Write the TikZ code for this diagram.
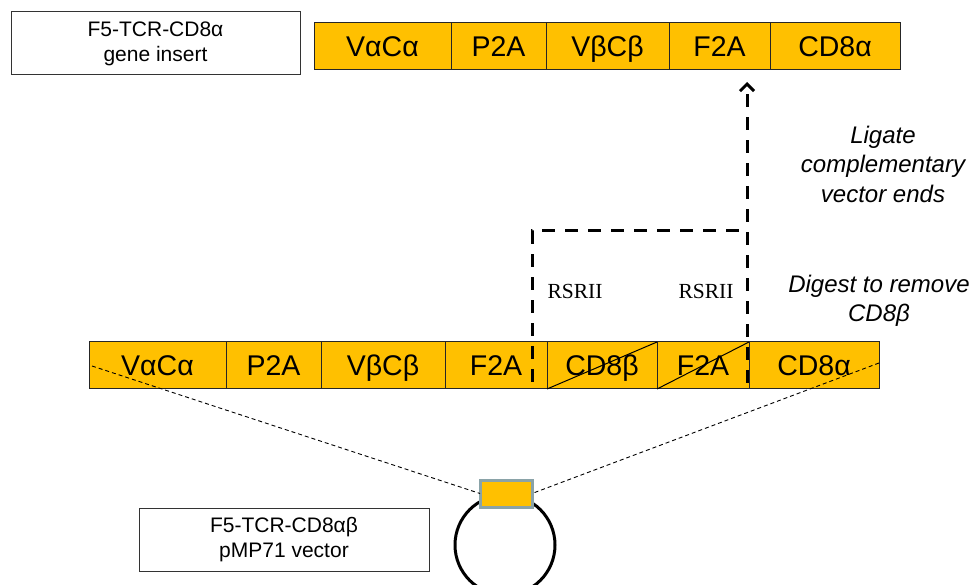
\documentclass[tikz,border=0pt]{standalone}
\usepackage{fontspec}
\setmainfont{Liberation Sans}
\newfontfamily\rsfont{Liberation Serif}
\usetikzlibrary{arrows.meta}
\definecolor{gene}{HTML}{FFC000}
\definecolor{insedge}{HTML}{8AA3A8}
\tikzset{
  cell/.style={draw=black!85, line width=1pt, fill=gene, inner sep=0pt, outer sep=0pt, minimum height=47pt, anchor=north west, text height=20.5pt, text depth=0pt, font=\fontsize{28.5}{30}\selectfont},
  labelbox/.style={draw=black!80, line width=1pt, fill=white, inner sep=0pt, outer sep=0pt, minimum width=289pt, minimum height=63pt, align=center, font=\fontsize{21}{25}\selectfont},
  thickdash/.style={line width=3pt, dash pattern=on 13pt off 10pt},
  thindash/.style={line width=0.9pt, dash pattern=on 4pt off 3pt},
  note/.style={align=center, font=\itshape\fontsize{24}{29.5}\selectfont},
  site/.style={font=\rsfont\fontsize{21.5}{22}\selectfont}
}
\begin{document}
\begin{tikzpicture}[x=1pt,y=-1pt]
\useasboundingbox (0,0) rectangle (975,585);
% top label box
\node[labelbox, anchor=north west] (toplabel) at (11,12) {F5-TCR-CD8α\\gene insert};
% top strip
\node[cell, minimum width=137pt] (t1) at (314,23) {VαCα};
\node[cell, minimum width=95pt] (t2) at (t1.north east) {P2A};
\node[cell, minimum width=123pt] (t3) at (t2.north east) {VβCβ};
\node[cell, minimum width=101pt] (t4) at (t3.north east) {F2A};
\node[cell, minimum width=130pt] (t5) at (t4.north east) {CD8α};
% bottom strip
\node[cell, minimum width=137pt] (b1) at (89,342) {VαCα};
\node[cell, minimum width=95pt] (b2) at (b1.north east) {P2A};
\node[cell, minimum width=124pt] (b3) at (b2.north east) {VβCβ};
\node[cell, minimum width=102pt] (b4) at (b3.north east) {F2A};
\node[cell, minimum width=110pt] (b5) at (b4.north east) {CD8β};
\node[cell, minimum width=92pt] (b6) at (b5.north east) {F2A};
\node[cell, minimum width=130pt] (b7) at (b6.north east) {CD8α};
\draw[line width=1pt] (b5.south west) -- (b5.north east);
\draw[line width=1pt] (b6.south west) -- (b6.north east);
% digest / ligate dashed path
\coordinate (cutL) at (532,382);
\coordinate (cornerL) at (532,231);
\coordinate (cornerR) at (747,231);
\coordinate (cutR) at (747,383);
\coordinate (tip) at (747,82);
\draw[thickdash] (cutL) -- (cornerL) -- (cornerR);
\draw[thickdash, -{Straight Barb[length=7pt, width=14pt, line width=3pt]}] (cutR) -- (tip);
% labels
\node[site] (rs1) at (575,291) {RSRII};
\node[site] (rs2) at (706,291) {RSRII};
\node[note] (digest) at (879,301) {Digest to remove\\CD8β};
\node[note] (ligate) at (883,164) {Ligate\\complementary\\vector ends};
% plasmid
\draw[line width=3pt] (505,545) circle (50pt);
\node[draw=insedge, line width=3pt, fill=gene, inner sep=0pt, outer sep=0pt, minimum width=52pt, minimum height=27pt] (ins) at (506,493.5) {};
\coordinate (fanL) at (92,366);
\coordinate (fanR) at (879,363);
\draw[thindash] (fanL) -- (ins.west);
\draw[thindash] (fanR) -- (ins.east);
% bottom label box
\node[labelbox, anchor=north west, minimum width=290pt] (botlabel) at (139,508) {F5-TCR-CD8αβ\\pMP71 vector};
\end{tikzpicture}
\end{document}
